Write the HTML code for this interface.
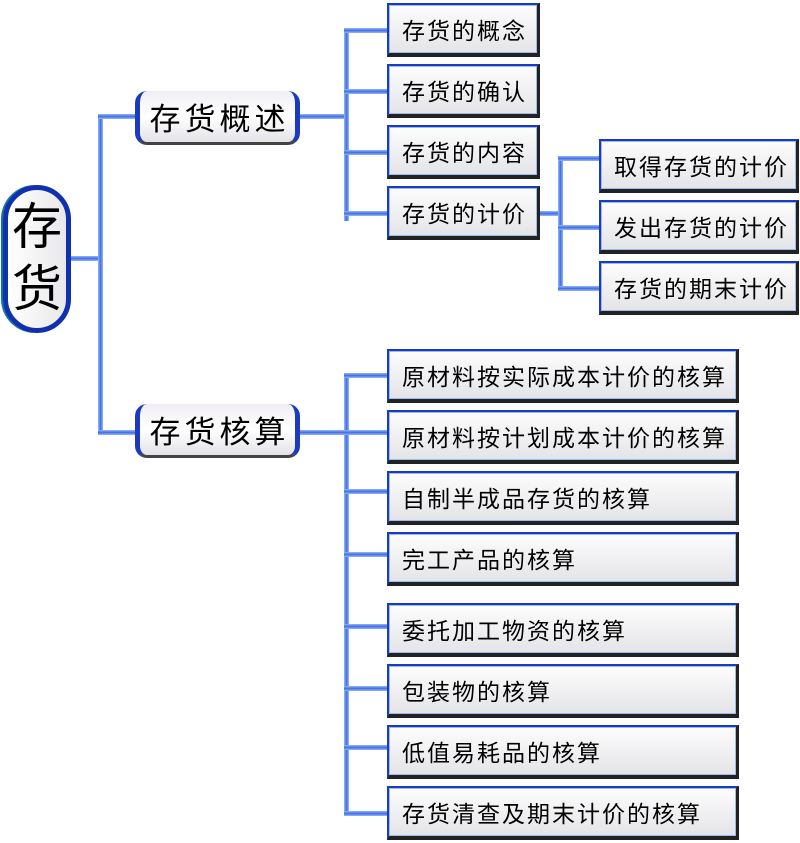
<!DOCTYPE html>
<html><head><meta charset="utf-8"><style>
body{margin:0;width:800px;height:843px;background:#fff;position:relative;overflow:hidden;font-family:"Liberation Sans","Noto Sans CJK SC",sans-serif;}
.b{position:absolute;box-sizing:border-box;border-top:2px solid #1a3bbf;border-left:2px solid #1a3bbf;border-right:3px solid #222;border-bottom:4px solid #222;background:linear-gradient(#fdfdfd,#e4e4e8);font-size:23px;letter-spacing:2px;color:#000;padding-left:13px;display:flex;align-items:center;box-shadow:inset 0 0 0 1px #9bbcf0;white-space:nowrap;}
.h{position:absolute;height:5px;background:linear-gradient(#9ab8f5,#3d6ee8,#9ab8f5);}
.v{position:absolute;width:5px;background:linear-gradient(90deg,#9ab8f5,#3d6ee8,#9ab8f5);}
.l1{position:absolute;box-sizing:border-box;border-radius:12px;background:linear-gradient(#f0eef3,#fff 50%,#e3e3e8);border-left:5px solid #1a3bbf;border-right:5px solid #1a3bbf;border-bottom:3px solid #444;font-size:31px;letter-spacing:4px;padding-left:4px;display:flex;align-items:center;justify-content:center;white-space:nowrap;}
.root{position:absolute;left:3px;top:185px;width:68px;height:148px;box-sizing:border-box;border:5px solid #1030b0;border-radius:34px;background:linear-gradient(90deg,#fff,#e8e8ea);font-size:50px;line-height:62px;text-align:center;padding-top:6px;box-shadow:-2px 0 0 #0a7a90;}
</style></head><body>
<div class="h" style="left:71px;top:256px;width:31px"></div>
<div class="v" style="left:98px;top:114px;height:321px"></div>
<div class="h" style="left:98px;top:114px;width:40px"></div>
<div class="h" style="left:98px;top:430px;width:40px"></div>
<div class="root">存<br>货</div>
<div class="l1" style="left:135px;top:91px;width:165px;height:54px">存货概述</div>
<div class="l1" style="left:135px;top:404px;width:165px;height:54px">存货核算</div>
<div class="h" style="left:300px;top:114px;width:48px"></div>
<div class="v" style="left:344px;top:28px;height:193px"></div>
<div class="h" style="left:344px;top:28px;width:45px"></div>
<div class="h" style="left:344px;top:89px;width:45px"></div>
<div class="h" style="left:344px;top:150px;width:45px"></div>
<div class="h" style="left:344px;top:211px;width:45px"></div>
<div class="b" style="left:387px;top:3px;width:153px;height:54px">存货的概念</div>
<div class="b" style="left:387px;top:64px;width:153px;height:54px">存货的确认</div>
<div class="b" style="left:387px;top:125px;width:153px;height:54px">存货的内容</div>
<div class="b" style="left:387px;top:186px;width:153px;height:54px">存货的计价</div>
<div class="h" style="left:540px;top:211px;width:22px"></div>
<div class="v" style="left:558px;top:156px;height:135px"></div>
<div class="h" style="left:558px;top:156px;width:43px"></div>
<div class="h" style="left:558px;top:225px;width:43px"></div>
<div class="h" style="left:558px;top:286px;width:43px"></div>
<div class="b" style="left:599px;top:139px;width:200px;height:54px">取得存货的计价</div>
<div class="b" style="left:599px;top:200px;width:200px;height:54px">发出存货的计价</div>
<div class="b" style="left:599px;top:261px;width:200px;height:54px">存货的期末计价</div>
<div class="h" style="left:300px;top:430px;width:48px"></div>
<div class="v" style="left:344px;top:373px;height:443px"></div>
<div class="h" style="left:344px;top:373px;width:45px"></div>
<div class="h" style="left:344px;top:430px;width:45px"></div>
<div class="h" style="left:344px;top:489px;width:45px"></div>
<div class="h" style="left:344px;top:552px;width:45px"></div>
<div class="h" style="left:344px;top:624px;width:45px"></div>
<div class="h" style="left:344px;top:686px;width:45px"></div>
<div class="h" style="left:344px;top:745px;width:45px"></div>
<div class="h" style="left:344px;top:811px;width:45px"></div>
<div class="b" style="left:387px;top:349px;width:352px;height:54px">原材料按实际成本计价的核算</div>
<div class="b" style="left:387px;top:410px;width:352px;height:54px">原材料按计划成本计价的核算</div>
<div class="b" style="left:387px;top:471px;width:352px;height:54px">自制半成品存货的核算</div>
<div class="b" style="left:387px;top:532px;width:352px;height:54px">完工产品的核算</div>
<div class="b" style="left:387px;top:603px;width:352px;height:54px">委托加工物资的核算</div>
<div class="b" style="left:387px;top:664px;width:352px;height:54px">包装物的核算</div>
<div class="b" style="left:387px;top:725px;width:352px;height:54px">低值易耗品的核算</div>
<div class="b" style="left:387px;top:786px;width:352px;height:54px">存货清查及期末计价的核算</div>
</body></html>
